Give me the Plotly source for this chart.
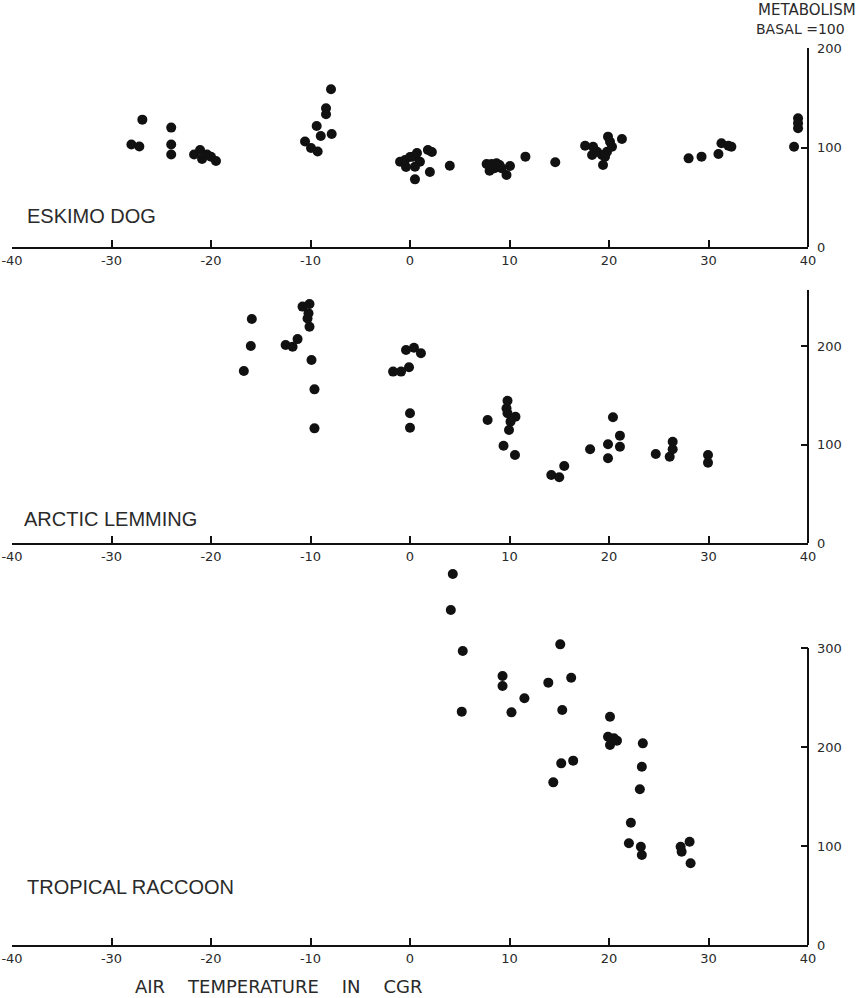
import plotly.graph_objects as go

# ---------------- data ----------------
dog_temp = [-26.9, -28.0, -27.2, -24.0, -24.0, -24.0,
            -21.7, -21.1, -20.9, -20.4, -20.0, -19.5,
            -10.55, -9.95, -9.28, -9.38, -8.97, -7.87, -8.44, -8.44, -7.94,
            -1.0, -0.5, 0.0, 0.3, 1.0, 0.5, 0.5, 1.8, 2.2, 2.0, 4.0, -0.4, 0.7,
            7.7, 8.2, 8.7, 8.0, 8.5, 9.2, 9.7, 10.05, 9.0, 11.6, 14.6,
            17.6, 18.4, 18.3, 18.8, 19.4, 19.3, 19.8, 19.9, 20.1, 20.3, 21.3, 19.6,
            28.0, 29.3, 31.0, 31.3, 32.0, 32.3,
            38.6, 39.0, 39.0, 39.0]
dog_metab = [128, 103, 101, 120, 103, 93,
             93, 97.5, 88.4, 93, 90.7, 86.4,
             106, 99.5, 96, 121.6, 111.6, 113.6, 139.4, 133.4, 158.5,
             85.7, 87.4, 90.5, 90.8, 85.7, 80.7, 68, 97.5, 95.5, 75.4, 81.7, 80.4, 94.5,
             83.4, 83.4, 84.1, 76.7, 79.1, 79.1, 72.4, 81.4, 82.4, 90.8, 85.1,
             101.8, 100.8, 92.5, 95.8, 82.4, 92.5, 95.8, 110.9, 105.8, 100.8, 108.5, 90.8,
             89.1, 90.8, 93.5, 104.2, 101.8, 100.8,
             100.8, 129.3, 119.3, 124.3]

lemming_temp = [-16.7, -16.0, -15.9, -12.5, -11.8, -11.3, -10.8, -10.1, -10.2, -10.3, -10.1,
                -9.9, -9.6, -9.6,
                -1.7, -0.9, -0.1, -0.4, 0.4, 1.1, 0.0, 0.0,
                7.8, 9.4, 9.8, 9.7, 9.8, 10.6, 10.1, 9.95, 10.55,
                14.2, 15.0, 15.5, 18.1, 19.9, 19.9, 20.4, 21.1, 21.1,
                24.7, 26.1, 26.4, 26.4, 29.95, 29.95]
lemming_metab = [174.6, 200, 227.4, 201, 199.3, 207, 240, 242.6, 233.2, 228, 219.6,
                 185.8, 156, 116.4,
                 174, 174, 178.4, 196, 198.3, 192.6, 131.7, 117,
                 124.9, 98.8, 144.5, 136.7, 131.7, 128.2, 123.2, 114.7, 89.3,
                 69, 66.7, 78.2, 95.1, 100.2, 86, 127.6, 109, 97.8,
                 90.4, 87.6, 102.8, 95.1, 89.3, 81.5]

raccoon_temp = [4.3, 4.1, 5.3, 5.2, 9.3, 9.3, 10.2, 11.5, 13.9, 15.1, 16.2, 15.3, 15.2, 16.4, 14.4,
                20.1, 19.9, 20.1, 20.8, 20.5, 23.4, 23.3, 23.1, 22.2, 22.0, 23.2, 23.3,
                27.2, 27.3, 28.1, 28.2]
raccoon_metab = [374.7, 338.4, 297, 235.7, 271.7, 261.6, 235, 249.2, 265, 303.7, 270, 237.4, 183.5, 186.2, 164.3,
                 230.6, 210.4, 202, 206.4, 208.8, 203.7, 180.1, 157.3, 123.5, 102.7, 99.3, 90.9,
                 99.3, 94.2, 104.3, 82.5]

x_ticks = [-40, -30, -20, -10, 0, 10, 20, 30, 40]
x_tick_labels = ["-40", "-30", "-20", "-10", "0", "10", "20", "30", "40"]
dog_y_ticks = [0, 100, 200]
lemming_y_ticks = [0, 100, 200]
raccoon_y_ticks = [0, 100, 200, 300]

# ---------------- figure ----------------
W, H = 860, 998
ML, MR = 12, 52
PW = W - ML - MR

def px_x(p):
    return (p - ML) / PW

def px_y(p):
    return (H - p) / H

INK = "#111111"
TXT = "#2a2a2a"
NUMFONT = dict(family="DejaVu Sans", size=13, color=TXT)
LABFONT = "Liberation Sans, DejaVu Sans, sans-serif"

fig = go.Figure()
series = [(dog_temp, dog_metab, "x", "y"),
          (lemming_temp, lemming_metab, "x2", "y2"),
          (raccoon_temp, raccoon_metab, "x3", "y3")]
for xs, ys, xa, ya in series:
    fig.add_trace(go.Scatter(x=xs, y=ys, xaxis=xa, yaxis=ya, mode="markers",
                             marker=dict(size=10, color=INK, line=dict(width=0)),
                             cliponaxis=False, showlegend=False, hoverinfo="skip"))

# panel geometry: (pixel of value 0, pixel per unit, range top, axis-line top value, ticks)
panels = [(247, 0.995, 200, 200, dog_y_ticks),
          (543, 0.985, 257, 257, lemming_y_ticks),
          (945, 0.99, 385, 300, raccoon_y_ticks)]

layout = dict(width=W, height=H, autosize=False,
              margin=dict(l=ML, r=MR, t=0, b=0, pad=0, autoexpand=False),
              paper_bgcolor="white", plot_bgcolor="rgba(0,0,0,0)", showlegend=False)
shapes = []
for i, (p0, ppu, vtop, ltop, yt) in enumerate(panels):
    sfx = "" if i == 0 else str(i + 1)
    ptop = p0 - vtop * ppu
    layout["xaxis" + sfx] = dict(
        domain=[0, 1], range=[-40, 40], anchor="y" + sfx, automargin=False,
        showline=True, linecolor=INK, linewidth=2, mirror=False,
        showgrid=False, zeroline=False,
        ticks="inside", ticklen=7, tickwidth=1.5, tickcolor=INK,
        tickvals=x_ticks, ticktext=x_tick_labels, tickfont=NUMFONT,
        fixedrange=True)
    layout["yaxis" + sfx] = dict(
        domain=[px_y(p0), px_y(ptop)], range=[0, vtop], anchor="x" + sfx, automargin=False,
        side="right", showline=False,
        showgrid=False, zeroline=False,
        ticks="inside", ticklen=7, tickwidth=1.5, tickcolor=INK,
        tickvals=yt, ticktext=[str(v) for v in yt],
        tickfont=dict(family="DejaVu Sans", size=13, color=TXT),
        ticklabelstandoff=8, fixedrange=True)
    shapes.append(dict(type="line", xref="paper", yref="y" + sfx,
                       x0=1, x1=1, y0=0, y1=ltop,
                       line=dict(color=INK, width=2)))
layout["shapes"] = shapes
fig.update_layout(**layout)

annos = [
    dict(text="ESKIMO DOG", x=px_x(25), y=px_y(216)),
    dict(text="ARCTIC LEMMING", x=px_x(22), y=px_y(519)),
    dict(text="TROPICAL RACCOON", x=px_x(25), y=px_y(887)),
]
for a in annos:
    fig.add_annotation(text=a["text"], x=a["x"], y=a["y"], xref="paper", yref="paper",
                       xanchor="left", yanchor="middle", showarrow=False,
                       font=dict(family=LABFONT, size=20, color=TXT))

fig.add_annotation(text="METABOLISM", x=px_x(857), y=px_y(10), xref="paper", yref="paper",
                   xanchor="right", yanchor="middle", showarrow=False, borderpad=0,
                   font=dict(family="DejaVu Sans", size=15, color=TXT))
fig.add_annotation(text="BASAL =100", x=px_x(846), y=px_y(29), xref="paper", yref="paper",
                   xanchor="right", yanchor="middle", showarrow=False, borderpad=0,
                   font=dict(family="DejaVu Sans", size=14, color=TXT))
fig.add_annotation(text="AIR    TEMPERATURE    IN    CGR", x=px_x(278), y=px_y(986), xref="paper", yref="paper",
                   xanchor="center", yanchor="middle", showarrow=False,
                   font=dict(family="DejaVu Sans", size=18, color=TXT))

fig.write_html("out.html", config={"displayModeBar": False},
               post_script="document.body.style.margin='0px';")
